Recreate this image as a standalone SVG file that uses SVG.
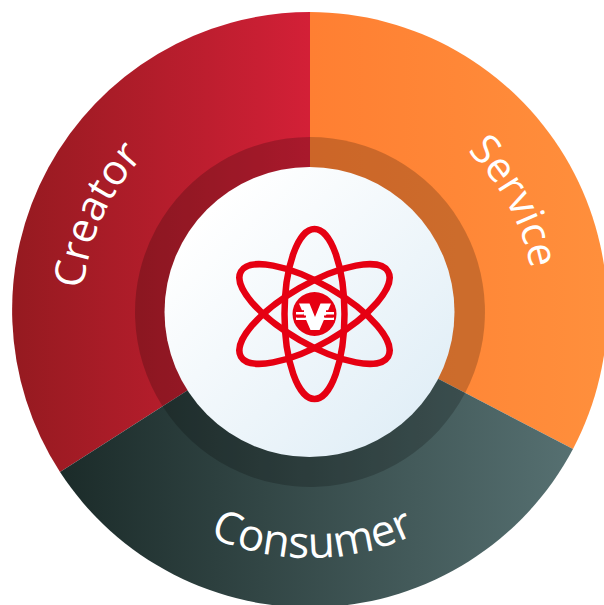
<svg xmlns="http://www.w3.org/2000/svg" xmlns:xlink="http://www.w3.org/1999/xlink" width="604" height="605" viewBox="0 0 604 605">
<defs>
<linearGradient id="gc" gradientUnits="userSpaceOnUse" x1="12" y1="0" x2="310" y2="0"><stop offset="0" stop-color="#951a20"/><stop offset="1" stop-color="#d32037"/></linearGradient>
<linearGradient id="gs" gradientUnits="userSpaceOnUse" x1="310" y1="0" x2="604" y2="0"><stop offset="0" stop-color="#ff7f32"/><stop offset="1" stop-color="#ff8f3c"/></linearGradient>
<linearGradient id="gn" gradientUnits="userSpaceOnUse" x1="61" y1="0" x2="573" y2="0"><stop offset="0" stop-color="#1b2b29"/><stop offset="1" stop-color="#567071"/></linearGradient>
<linearGradient id="gw" gradientUnits="userSpaceOnUse" x1="210" y1="210" x2="410" y2="415"><stop offset="0" stop-color="#ffffff"/><stop offset="1" stop-color="#e2eff7"/></linearGradient>
<path id="pc" d="M 82 312 A 228 228 0 0 1 310 84"/>
<path id="ps" d="M 310 87 A 225 225 0 0 1 535 312"/>
<path id="pn" d="M 64 312 A 246 246 0 0 0 556 312"/>
</defs>
<style>
.lab{font-family:"Open Sans","Noto Sans",sans-serif;fill:#fff}
.o{fill:none;stroke:#e60012;stroke-width:6.500}
</style>
<g id="creator">
<path d="M310 312 L310 12 A298 298 0 0 0 60 472 Z" fill="url(#gc)"/>
<path d="M310 312 L310 137 A175 175 0 0 0 162.600 406.300 Z" fill="#000" fill-opacity=".2"/>
<text class="lab" font-size="42"><textPath xlink:href="#pc" href="#pc" startOffset="23">Creator</textPath></text>
</g>
<g id="service">
<path d="M310 312 L310 12 A298 298 0 0 1 573 449 Z" fill="url(#gs)"/>
<path d="M310 312 L310 137 A175 175 0 0 1 465.200 392.800 Z" fill="#000" fill-opacity=".2"/>
<text class="lab" font-size="41"><textPath xlink:href="#ps" href="#ps" startOffset="174">Service</textPath></text>
</g>
<g id="consumer">
<path d="M310 312 L573 449 A298 298 0 0 1 60 472 Z" fill="url(#gn)"/>
<path d="M310 312 L465.200 392.800 A175 175 0 0 1 162.600 406.300 Z" fill="#000" fill-opacity=".2"/>
<text class="lab" font-size="44"><textPath xlink:href="#pn" href="#pn" startOffset="389" text-anchor="middle">Consumer</textPath></text>
</g>
<g id="hub">
<circle cx="309.500" cy="312" r="145" fill="url(#gw)"/>
<ellipse class="o" cx="314.500" cy="314" rx="30" ry="85"/>
<ellipse class="o" cx="314.500" cy="314" rx="30" ry="85" transform="rotate(60 314.500 314)"/>
<ellipse class="o" cx="314.500" cy="314" rx="30" ry="85" transform="rotate(-60 314.500 314)"/>
<circle cx="314.500" cy="314" r="22" fill="#e60012"/>
<path d="M299 303.500H309.500L315 317L320.500 303.500H331L319.500 330H310.500Z" fill="#fff"/>
<path d="M296 312H303.500V314.500H296ZM296 317.500H306V320H296ZM326 312H334V314.500H326ZM323.500 317.500H334V320H323.500Z" fill="#fff"/>
<path d="M297 310.200H304V312H297ZM297 315.500H306V317.500H297ZM326 310.200H333V312H326ZM324 315.500H333V317.500H324Z" fill="#e60012"/>
</g>
</svg>
